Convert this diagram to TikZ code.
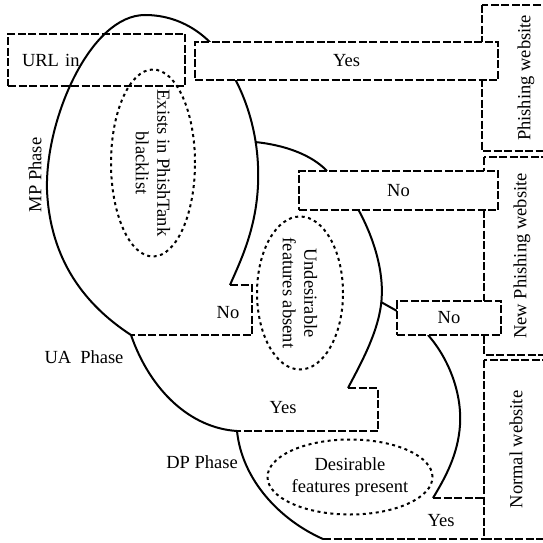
\documentclass[tikz,border=0pt]{standalone}
\usepackage{fontspec}
\setmainfont{Liberation Serif}
\usetikzlibrary{shapes.geometric}
\tikzset{
  curve/.style={line width=2pt},
  dline/.style={line width=2pt, dash pattern=on 8pt off 2.5pt},
  dashbox/.style={draw, dline, inner sep=0pt},
  dotell/.style={ellipse, draw, line width=2pt, dash pattern=on 3pt off 3.5pt, inner sep=0pt}
}

\begin{document}
\begin{tikzpicture}[x=1pt, y=-1pt, font=\fontsize{18.5}{21.5}\selectfont]
\useasboundingbox (0,0) rectangle (542,543);
%MP phase
\draw[curve] (131,335) .. controls (85,305) and (50,260) .. (47,190)
  .. controls (45,120) and (90,15) .. (145,15)
  .. controls (185,15) and (215,40) .. (230,70)
  .. controls (248,100) and (260,140) .. (258,185)
  .. controls (256,230) and (240,262) .. (230,285);
\draw[dline] (230,285) -- (252,285) -- (252,335) -- (131,335);
%UA phase
\coordinate (mpua) at (255,142);
\draw[curve] (mpua) .. controls (285,145) and (312,155) .. (327,171);
\draw[curve] (358,209) .. controls (375,240) and (385,275) .. (381,305)
  .. controls (377,335) and (360,365) .. (348,388);
\draw[curve] (381,302) -- (397,311);
\draw[dline] (348,388) -- (378,388) -- (378,431) -- (237,431);
\draw[curve] (131,335) .. controls (150,390) and (190,428) .. (237,431);
%DP phase
\draw[curve] (237,431) .. controls (242,480) and (280,520) .. (323,539);
\draw[dline] (323,539) -- (484,539);
\draw[curve] (428,335) .. controls (450,360) and (462,395) .. (460,425)
  .. controls (458,455) and (445,478) .. (433,498);
\draw[dline] (433,498) -- (484,498);
%outcomes
\node[dashbox, rotate=90, minimum width=146pt, minimum height=88pt] (phish) at (526,78) {Phishing website};
\node[dashbox, rotate=90, minimum width=198pt, minimum height=76pt] (newphish) at (522,256) {New Phishing website};
\node[dashbox, rotate=90, minimum width=179pt, minimum height=64pt] (normal) at (516,449.5) {Normal website};
%decisions
\node[dashbox, minimum width=177pt, minimum height=52pt, text width=149pt, align=left] (url) at (96.5,60) {URL in};
\node[dashbox, fill=white, minimum width=303pt, minimum height=38pt] (yes1) at (346.5,61) {Yes};
\node[dashbox, fill=white, minimum width=199pt, minimum height=39pt] (no1) at (398.5,190.5) {No};
\node[dashbox, fill=white, minimum width=104pt, minimum height=34pt] (no2) at (449,318) {No};
%checks
\node[dotell, minimum width=84pt, minimum height=187pt] (blist) at (153,163) {};
\node[rotate=-90, align=center] (blisttxt) at (blist) {Exists in PhishTank\\blacklist};
\node[dotell, minimum width=86pt, minimum height=153pt] (undes) at (300,293) {};
\node[rotate=-90, align=center] (undestxt) at (undes) {Undesirable\\features absent};
\node[dotell, minimum width=165pt, minimum height=75pt] (des) at (350,477) {};
\node[align=center] (destxt) at (des) {Desirable\\features present};
%labels
\node[rotate=90] (mp) at (35,175) {MP Phase};
\node (ua) at (84,357) {UA\hspace{9pt}Phase};
\node (dp) at (202,462) {DP Phase};
\node (nolbl) at (228,313) {No};
\node (yeslbl) at (283,408) {Yes};
\node (yeslbl2) at (441,521) {Yes};
\end{tikzpicture}
\end{document}
